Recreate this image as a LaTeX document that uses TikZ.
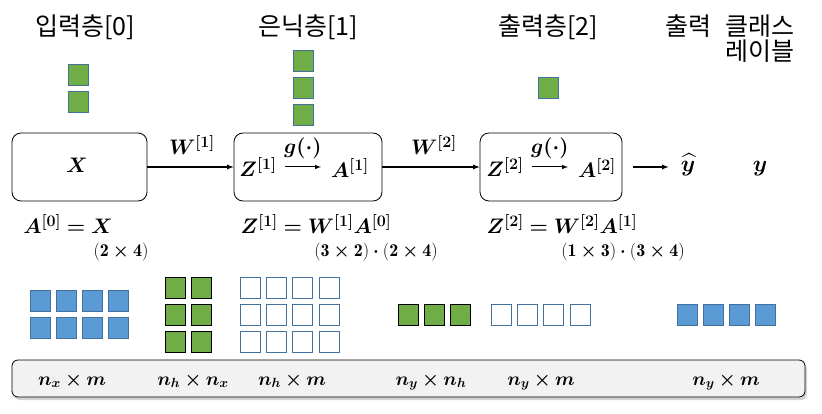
\RequirePackage{fix-cm}
\documentclass[tikz,border=0pt]{standalone}
\usepackage{amsmath}
\usepackage{bm}
\usepackage{fontspec}
\newfontfamily\kr{Noto Sans CJK KR}
\usetikzlibrary{shadows}
\definecolor{sqblue}{HTML}{5B9BD5}
\definecolor{sqedge}{HTML}{41719C}
\definecolor{sqgreen}{HTML}{70AD47}
\definecolor{barfill}{HTML}{F2F2F2}
\newcommand{\lyr}[1]{^{\mbox{\fontsize{16}{16}\selectfont\bfseries[#1]}}}
\newcommand{\btimes}{\bm{\times}}
\tikzset{
    hdr/.style={font=\kr\fontsize{25}{30}\selectfont, anchor=base},
    eq/.style={font=\fontsize{21}{25}\selectfont, anchor=base, inner sep=0pt},
    dims/.style={font=\fontsize{18}{21}\selectfont, anchor=base, inner sep=0pt},
    dimlbl/.style={font=\fontsize{19}{23}\selectfont, anchor=base, inner sep=0pt},
    layer/.style={draw, rounded corners=9pt, minimum height=68pt, line width=0.8pt},
    conn/.style={line width=1.2pt, ->},
    topsq/.style={fill=sqgreen, draw=sqedge, line width=0.8pt},
    bluesq/.style={fill=sqblue, draw=sqedge, line width=0.8pt},
    greensq/.style={fill=sqgreen, draw=black, line width=0.8pt},
    emptysq/.style={fill=white, draw=sqedge, line width=0.8pt},
}

\begin{document}
\begin{tikzpicture}[x=1pt,y=-1pt,>=latex]
        \useasboundingbox (0,0) rectangle (822,414);
        % layer titles
        \node[hdr] (t0) at (85,36) {입력층[0]};
        \node[hdr] (t1) at (308,36) {은닉층[1]};
        \node[hdr] (t2) at (548,36) {출력층[2]};
        \node[hdr] (t3) at (688,36) {출력};
        \node[hdr] (t4) at (760,36) {클래스};
        \node[hdr] (t5) at (760,61) {레이블};
        % units
        \foreach \r in {0,1}{
            \draw[topsq] (68,64+27*\r) rectangle ++(20,21);
        }
        \foreach \r in {0,1,2}{
            \draw[topsq] (293,50+27*\r) rectangle ++(20,21);
        }
        \draw[topsq] (538,77) rectangle ++(20,21);
        % layers
        \node[layer, minimum width=135pt] (in) at (79.5,167) {};
        \node[layer, minimum width=148pt] (hid) at (308,167) {};
        \node[layer, minimum width=142pt] (out) at (551,167) {};
        \node[eq] (x) at (77,173) {$\bm{X}$};
        \node[eq] (z1) at (258,177) {$\bm{Z}\lyr{1}$};
        \node[eq] (a1) at (350,178) {$\bm{A}\lyr{1}$};
        \node[eq] (z2) at (505,177) {$\bm{Z}\lyr{2}$};
        \node[eq] (a2) at (597,178) {$\bm{A}\lyr{2}$};
        \draw[->, line width=1pt] ([shift={(8,-10)}]z1.base east) -- node[midway, above=7pt, eq, anchor=south, inner sep=1pt] (g1) {$\bm{g(\cdot)}$} ([shift={(-10,-11)}]a1.base west);
        \draw[->, line width=1pt] ([shift={(8,-10)}]z2.base east) -- node[midway, above=7pt, eq, anchor=south, inner sep=1pt] (g2) {$\bm{g(\cdot)}$} ([shift={(-10,-11)}]a2.base west);
        \node[eq] (w1) at (192,155) {$\bm{W}\lyr{1}$};
        \node[eq] (w2) at (434,155) {$\bm{W}\lyr{2}$};
        \draw[conn] (in) -- (hid);
        \draw[conn] (hid) -- (out);
        \node[eq, font=\fontsize{23}{27}\selectfont] (yhat) at (688,172) {$\bm{\widehat{y}}$};
        \node[eq, font=\fontsize{23}{27}\selectfont] (y) at (760,172) {$\bm{y}$};
        \draw[conn, shorten <=11pt, shorten >=12pt] (out.east) -- (out.east -| yhat.west);
        % equations
        \node[eq] (e0) at (68,234) {$\bm{A}\lyr{0}\bm{=X}$};
        \node[dims] (s0) at (121,256) {$\mathbf{(2}\btimes\mathbf{4)}$};
        \node[eq] (e1) at (316,234) {$\bm{Z}\lyr{1}\bm{=W}\lyr{1}\bm{A}\lyr{0}$};
        \node[dims] (s1) at (376,256) {$\mathbf{(3}\btimes\mathbf{2)}\bm{\cdot}\mathbf{(2}\btimes\mathbf{4)}$};
        \node[eq] (e2) at (562,234) {$\bm{Z}\lyr{2}\bm{=W}\lyr{2}\bm{A}\lyr{1}$};
        \node[dims] (s2) at (623,256) {$\mathbf{(1}\btimes\mathbf{3)}\bm{\cdot}\mathbf{(3}\btimes\mathbf{4)}$};
        % matrices
        \foreach \c in {0,...,3}{
            \foreach \r in {0,1}{
                \draw[bluesq] (30+26*\c,290+27*\r) rectangle ++(20,21);
            }
        }
        \foreach \c in {0,1}{
            \foreach \r in {0,1,2}{
                \draw[greensq] (165+26*\c,277+27*\r) rectangle ++(20,21);
            }
        }
        \foreach \c in {0,...,3}{
            \foreach \r in {0,1,2}{
                \draw[emptysq] (240+26.3*\c,277+27*\r) rectangle ++(20,21);
            }
        }
        \foreach \c in {0,1,2}{
            \draw[greensq] (398+26*\c,304) rectangle ++(20,21);
            }
        \foreach \c in {0,...,3}{
            \draw[emptysq] (491+26.3*\c,304) rectangle ++(20,21);
            \draw[bluesq] (677+26*\c,304) rectangle ++(20,21);
        }
        % shapes bar
        \node[draw, fill=barfill, rounded corners=6pt, minimum width=793pt, minimum height=37pt, line width=0.8pt,
            drop shadow={shadow xshift=2pt, shadow yshift=-3pt, opacity=.35}] (bar) at (408.5,378.5) {};
        \node[dimlbl] (d0) at (72,385) {$\bm{n_x\times m}$};
        \node[dimlbl] (d1) at (193,385) {$\bm{n_h\times n_x}$};
        \node[dimlbl] (d2) at (292,385) {$\bm{n_h\times m}$};
        \node[dimlbl] (d3) at (431,385) {$\bm{n_y\times n_h}$};
        \node[dimlbl] (d4) at (541,385) {$\bm{n_y\times m}$};
        \node[dimlbl] (d5) at (726,385) {$\bm{n_y\times m}$};
    \end{tikzpicture}
\end{document}
